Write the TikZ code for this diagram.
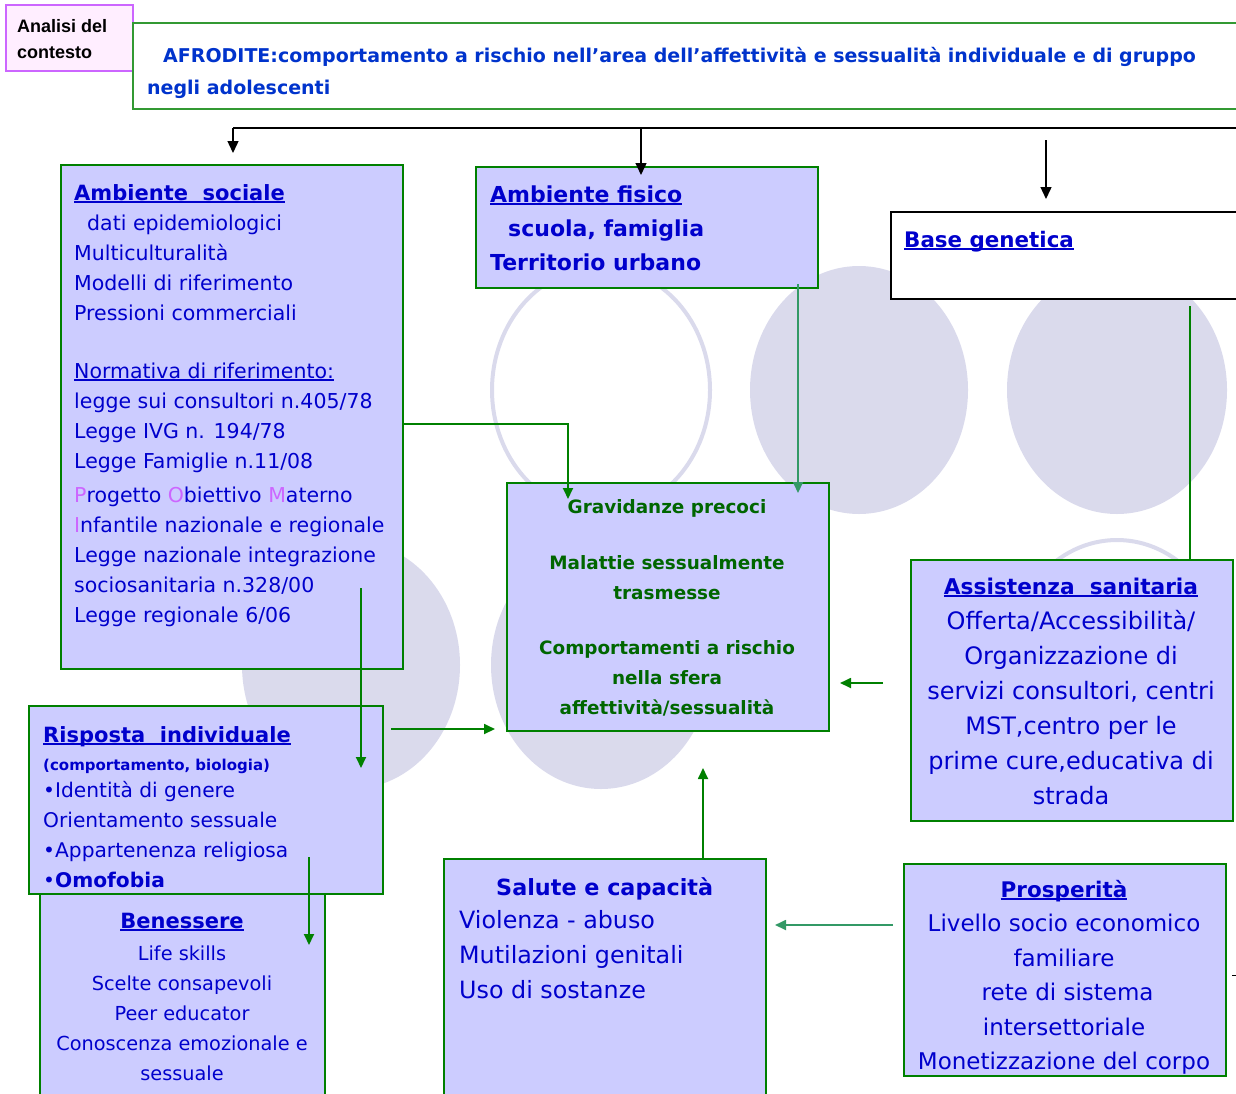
\documentclass[tikz,border=0pt]{standalone}
\usepackage{fontspec}
\setmainfont{DejaVu Sans}
\newfontfamily\arialfont{Liberation Sans}
\usetikzlibrary{positioning,arrows.meta}

\definecolor{panelfill}{HTML}{CCCCFF}
\definecolor{blobcol}{HTML}{DADAEC}
\definecolor{panelgreen}{HTML}{008000}
\definecolor{titlegreen}{HTML}{339933}
\definecolor{inkblue}{HTML}{0000CC}
\definecolor{headblue}{HTML}{0033CC}
\definecolor{inkgreen}{HTML}{006600}
\definecolor{linkteal}{HTML}{339966}
\definecolor{initviolet}{HTML}{CC66FF}
\definecolor{pinkfill}{HTML}{FFEEFF}

\newcommand{\fsz}[2]{\fontsize{#1}{#2}\selectfont}
% first line of every text block starts with this, so the node top sits 20pt above the baseline
\newcommand{\topln}{\rule{0pt}{20pt}}
\newcommand{\uln}[1]{\setbox0\hbox{#1}\rlap{\rule[-2.5pt]{\wd0}{1.6pt}}\box0}
\newcommand{\initl}[1]{{\color{initviolet}#1}}

\begin{document}
\begin{tikzpicture}[x=1pt, y=-1pt,
    panel/.style={rectangle, draw=panelgreen, line width=2pt, fill=panelfill, anchor=north west, inner sep=0pt},
    plainbox/.style={rectangle, draw=black, line width=2pt, fill=white, anchor=north west, inner sep=0pt},
    % text blocks inside the boxes
    txtL/.style={anchor=north west, inner sep=0pt, align=left, text=inkblue},
    txtC/.style={anchor=north, inner sep=0pt, align=center, text=inkblue},
    % background ellipses
    blob/.style={fill=blobcol},
    ring/.style={draw=blobcol, line width=4pt},
    % connectors
    link/.style={draw=panelgreen, line width=1.8pt, -{Triangle[length=11pt,width=10pt]}},
    tlink/.style={draw=linkteal, line width=1.8pt, -{Triangle[length=11pt,width=10pt]}},
    blink/.style={draw=black, line width=1.4pt, -{Triangle[length=12pt,width=11pt]}}
  ]
  \useasboundingbox (0,0) rectangle (1236,1093);
  \clip (0,0) rectangle (1236,1093);

  %--- background ellipses
  \fill[blob] (859,390) ellipse [x radius=109pt, y radius=124pt];
  \fill[blob] (1117,390) ellipse [x radius=110pt, y radius=124pt];
  \fill[blob] (351,665) ellipse [x radius=109pt, y radius=124pt];
  \fill[blob] (601,665) ellipse [x radius=110pt, y radius=124pt];
  \draw[ring] (601,390) ellipse [x radius=109pt, y radius=123pt];
  \draw[ring] (1117,663) ellipse [x radius=109pt, y radius=123pt];

  %--- heading
  \node[rectangle, draw=initviolet, line width=1.6pt, fill=pinkfill, anchor=north west,
        inner sep=0pt, minimum width=127pt, minimum height=66pt] (context) at (5,4) {};
  \node[anchor=north west, inner sep=0pt, align=left, font=\arialfont\bfseries\fsz{18}{26}] (context_txt) at (17,12)
    {\topln Analisi del\\contesto};
  \node[rectangle, draw=titlegreen, line width=1.6pt, fill=white, anchor=north west,
        inner sep=0pt, minimum width=1130pt, minimum height=86pt] (title) at (132,22) {};
  \node[txtL, text=headblue, font=\bfseries\fsz{19}{32}] (title_txt) at (147,42)
    {\topln\hspace*{16pt}AFRODITE:comportamento a rischio nell’area dell’affettività e sessualità individuale e di gruppo\\
     negli adolescenti};

  %--- boxes
  \node[panel, minimum width=342pt, minimum height=504pt] (sociale) at (60,164) {};
  \node[panel, minimum width=342pt, minimum height=121pt] (fisico) at (475,166) {};
  \node[plainbox, minimum width=360pt, minimum height=87pt] (genetica) at (890,211) {};
  \node[panel, minimum width=322pt, minimum height=248pt] (nucleo) at (506,482) {};
  \node[panel, minimum width=322pt, minimum height=261pt] (assist) at (910,559) {};
  \node[panel, minimum width=285pt, minimum height=240pt] (benessere) at (39,880) {};
  \node[panel, minimum width=354pt, minimum height=188pt] (risposta) at (28,705) {};
  \node[panel, minimum width=322pt, minimum height=250pt] (salute) at (443,858) {};
  \node[panel, minimum width=322pt, minimum height=212pt] (prosper) at (903,863) {};

  %--- texts
  \node[txtL, font=\fsz{20.5}{30}] (sociale_txt) at (74,180)
    {\topln{\bfseries\fsz{21}{30}\uln{Ambiente\ \ sociale}}\\
     \hspace*{13pt}dati epidemiologici\\
     Multiculturalità\\
     Modelli di riferimento\\
     Pressioni commerciali\\[28pt]
     \uln{Normativa di riferimento:}\\
     legge sui consultori n.405/78\\
     Legge IVG n. 194/78\\
     Legge Famiglie n.11/08\\[4pt]
     \initl{P}rogetto \initl{O}biettivo \initl{M}aterno\\
     \initl{I}nfantile nazionale e regionale\\
     Legge nazionale integrazione\\
     sociosanitaria n.328/00\\
     Legge regionale 6/06};
  \node[txtL, font=\bfseries\fsz{22}{34}] (fisico_txt) at (490,182)
    {\topln\uln{Ambiente fisico}\\
     \hspace*{18pt}scuola, famiglia\\
     Territorio urbano};
  \node[txtL, font=\bfseries\fsz{21.4}{30}] (genetica_txt) at (904,227)
    {\topln\uln{Base genetica}};
  \node[txtC, text=inkgreen, font=\bfseries\fsz{18.4}{30}] (nucleo_txt) at (667,493)
    {\topln Gravidanze precoci\\[26pt]
     Malattie sessualmente\\
     trasmesse\\[25pt]
     Comportamenti a rischio\\
     nella sfera\\
     affettività/sessualità};
  \node[txtC, font=\fsz{24}{35}] (assist_txt) at (1071,574)
    {\topln{\bfseries\fsz{21.7}{35}\uln{Assistenza\ \ sanitaria}}\\
     Offerta/Accessibilità/\\
     Organizzazione di\\
     servizi consultori, centri\\
     MST,centro per le\\
     prime cure,educativa di\\
     strada};
  \node[txtL, font=\fsz{20.2}{30}] (risposta_txt) at (43,722)
    {\topln{\bfseries\fsz{21}{30}\uln{Risposta\ \ individuale}}\\[-2pt]
     {\bfseries\fsz{15}{30}(comportamento, biologia)}\\[-3pt]
     •Identità di genere\\
     Orientamento sessuale\\
     •Appartenenza religiosa\\
     •{\bfseries Omofobia}};
  \node[txtC, font=\fsz{19.3}{30}] (benessere_txt) at (182,908)
    {\topln{\bfseries\fsz{21}{30}\uln{Benessere}}\\[2pt]
     Life skills\\
     Scelte consapevoli\\
     Peer educator\\
     Conoscenza emozionale e\\
     sessuale};
  \node[txtL, font=\fsz{23.8}{35}] (salute_txt) at (459,875)
    {\topln\hspace*{37pt}{\bfseries\fsz{22.3}{35}Salute e capacità}\\[-2pt]
     Violenza - abuso\\
     Mutilazioni genitali\\
     Uso di sostanze};
  \node[txtC, font=\fsz{23}{34.5}] (prosper_txt) at (1064,877)
    {\topln{\bfseries\fsz{21.5}{34.5}\uln{Prosperità}}\\
     Livello socio economico\\
     familiare\\
     \ rete di sistema\\
     intersettoriale\\
     Monetizzazione del corpo};

  %--- top fork (black)
  \coordinate (forkL) at (233,128);
  \coordinate (forkM) at (641,128);
  \coordinate (forkR) at (1236,128);
  \coordinate (genTop) at (1046,140);
  \draw[black, line width=1.4pt] (forkL) -- (forkR);
  \draw[blink, shorten >=11pt] (forkL) -- (forkL |- sociale.north);
  \draw[blink, shorten >=-9pt] (forkM) -- (forkM |- fisico.north);
  \draw[blink, shorten >=12pt] (genTop) -- (genTop |- genetica.north);

  %--- green connectors
  \coordinate (socOut) at ([yshift=-7pt]sociale.east);
  \coordinate (gravIn) at ([xshift=62pt, yshift=-17pt]nucleo.north west);
  \draw[link] (socOut) -| (gravIn);
  \draw[tlink] ([xshift=-21pt, yshift=5pt]fisico.south east) -- ([xshift=-32pt, yshift=-11pt]nucleo.north east);
  \coordinate (genOut) at (1190,306);
  \draw[panelgreen, line width=1.8pt] (genOut) -- (genOut |- assist.north);
  \coordinate (assistOut) at ([xshift=-27pt, yshift=7.5pt]assist.west);
  \draw[link, shorten >=10pt] (assistOut) -- (assistOut -| nucleo.east);
  \coordinate (socDown) at (361,588);
  \coordinate (rispIn) at (361,768);
  \draw[link] (socDown) -- (rispIn);
  \coordinate (rispOut) at (391,729);
  \draw[link, shorten >=11pt] (rispOut) -- (rispOut -| nucleo.west);
  \coordinate (rispDown) at (309,857);
  \coordinate (benIn) at (309,945);
  \draw[link] (rispDown) -- (benIn);
  \coordinate (salUp) at (703,858);
  \draw[link, shorten >=36pt] (salUp) -- (salUp |- nucleo.south);
  \coordinate (prosOut) at (893,925);
  \draw[tlink, shorten >=8pt] (prosOut) -- (prosOut -| salute.east);
  \coordinate (stubA) at (1232,975);
  \coordinate (stubB) at (1236,975);
  \draw[black, line width=1pt] (stubA) -- (stubB);
\end{tikzpicture}
\end{document}
